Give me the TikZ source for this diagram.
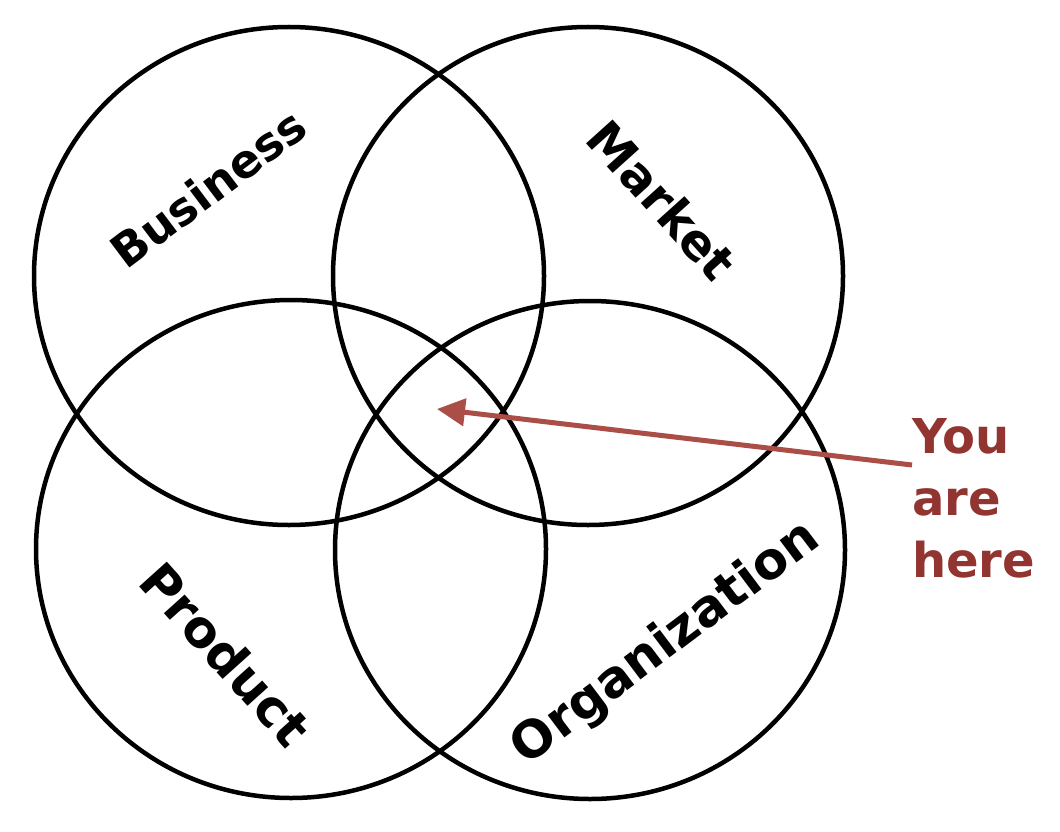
\documentclass[tikz,border=0pt]{standalone}
\usepackage{fontspec}
\setmainfont{DejaVu Sans}
\usetikzlibrary{arrows.meta,shapes.geometric}
\definecolor{arrowred}{RGB}{172,78,72}
\definecolor{textred}{RGB}{146,52,48}
\tikzset{
  setring/.style={draw=black, line width=4.5pt, ellipse, inner sep=0pt, minimum width=510pt, minimum height=498pt},
  setlabel/.style={text=black, inner sep=0pt},
  pointer/.style={draw=arrowred, line width=5pt, -{Triangle[length=28pt,width=27pt]}},
}
\begin{document}
\begin{tikzpicture}[x=1pt,y=-1pt]
\useasboundingbox[fill=white] (0,0) rectangle (1060,832);
\node[setring] (business) at (289,276) {};
\node[setring] (market) at (588,276) {};
\node[setring] (product) at (291,549) {};
\node[setring] (organization) at (590,550) {};
\node[setlabel, rotate=37, font=\fontsize{46}{56}\selectfont\bfseries] (lbusiness) at (208,188) {Business};
\node[setlabel, rotate=-48, font=\fontsize{49}{58}\selectfont\bfseries] (lmarket) at (662,200) {Market};
\node[setlabel, rotate=-48, font=\fontsize{51}{60}\selectfont\bfseries] (lproduct) at (226,654) {Product};
\node[setlabel, rotate=37, font=\fontsize{51}{60}\selectfont\bfseries] (lorganization) at (666,644) {Organization};
\node[font=\fontsize{48}{62}\selectfont\bfseries, text=textred, align=left, anchor=north west, inner sep=0pt] (here) at (912,418) {You\\are\\here};
\coordinate (tail) at (912,465);
\coordinate (spot) at (437,409);
\draw[pointer] (tail) -- (spot);
\end{tikzpicture}
\end{document}
